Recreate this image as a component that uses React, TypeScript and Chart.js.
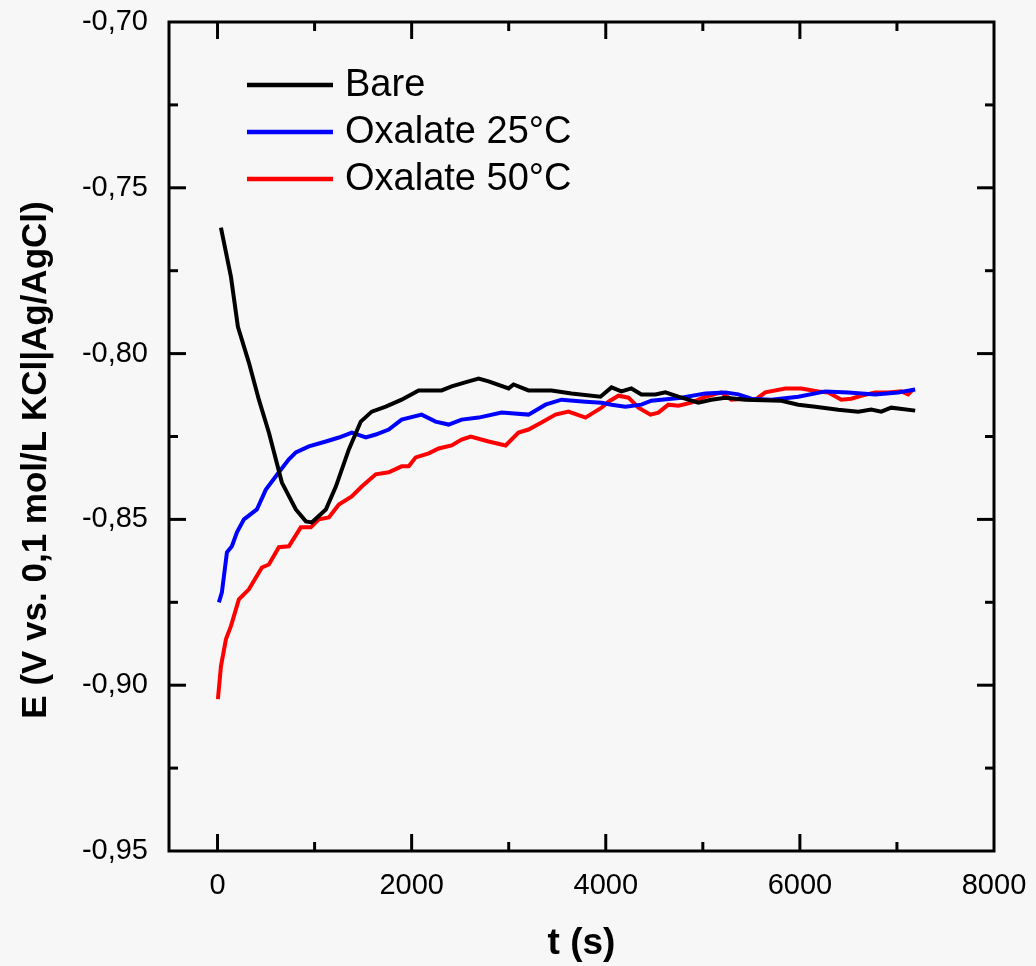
import React, { useEffect, useRef } from "react";
import { Chart, registerables } from "chart.js";

Chart.register(...registerables);

// ---- data (t in s, E in V) ----
const bareTime = [35, 138, 210, 323, 426, 529, 663, 807, 910, 971, 1116, 1219, 1353, 1476, 1589, 1733, 1897, 2072, 2309, 2412, 2587, 2690, 2793, 2999, 3050, 3204, 3441, 3647, 3945, 4059, 4161, 4264, 4367, 4511, 4614, 4748, 4954, 5088, 5232, 5438, 5809, 5984, 6159, 6395, 6601, 6735, 6838, 6941, 7188];
const bareE = [-0.762, -0.7768, -0.7919, -0.8027, -0.8139, -0.8238, -0.8389, -0.847, -0.8506, -0.8509, -0.847, -0.8401, -0.8289, -0.8205, -0.8175, -0.816, -0.8139, -0.8111, -0.8111, -0.8099, -0.8084, -0.8075, -0.8084, -0.8105, -0.8093, -0.8111, -0.8111, -0.812, -0.813, -0.8102, -0.8114, -0.8105, -0.8123, -0.8123, -0.8117, -0.813, -0.8148, -0.8139, -0.8133, -0.8139, -0.8142, -0.8154, -0.816, -0.8169, -0.8175, -0.8169, -0.8175, -0.8163, -0.8172];

const ox25Time = [14, 45, 97, 148, 200, 272, 405, 498, 632, 735, 807, 941, 1116, 1250, 1384, 1528, 1630, 1764, 1897, 2103, 2247, 2381, 2515, 2690, 2927, 3204, 3379, 3544, 3791, 3956, 4059, 4203, 4367, 4470, 4779, 5026, 5232, 5366, 5500, 5706, 5984, 6262, 6498, 6776, 7013, 7188];
const ox25E = [-0.875, -0.872, -0.8599, -0.8581, -0.8539, -0.85, -0.847, -0.841, -0.8358, -0.8319, -0.8298, -0.828, -0.8265, -0.8253, -0.8238, -0.8253, -0.8244, -0.8229, -0.8199, -0.8184, -0.8205, -0.8214, -0.8199, -0.8193, -0.8178, -0.8184, -0.8154, -0.8139, -0.8145, -0.8148, -0.8154, -0.816, -0.8154, -0.8142, -0.8133, -0.812, -0.8117, -0.8123, -0.8136, -0.8139, -0.813, -0.8114, -0.8117, -0.8123, -0.8117, -0.8108];

const ox50Time = [4, 35, 87, 138, 220, 323, 457, 529, 632, 735, 858, 961, 1044, 1147, 1250, 1383, 1486, 1630, 1764, 1897, 1970, 2042, 2176, 2278, 2412, 2515, 2608, 2793, 2968, 3101, 3204, 3338, 3482, 3616, 3791, 3956, 4028, 4131, 4234, 4337, 4460, 4542, 4645, 4748, 4882, 5026, 5191, 5294, 5438, 5541, 5644, 5850, 6015, 6190, 6293, 6427, 6529, 6632, 6776, 6910, 7044, 7116, 7167];
const ox50E = [-0.9042, -0.8943, -0.8861, -0.8822, -0.8741, -0.8711, -0.8645, -0.8636, -0.8584, -0.8581, -0.8524, -0.8524, -0.85, -0.8494, -0.8455, -0.8431, -0.8401, -0.8364, -0.8358, -0.834, -0.834, -0.8313, -0.8301, -0.8286, -0.8277, -0.8259, -0.825, -0.8265, -0.8277, -0.8238, -0.8229, -0.8208, -0.8184, -0.8175, -0.8193, -0.8163, -0.8145, -0.8127, -0.8133, -0.8163, -0.8184, -0.8178, -0.8154, -0.8157, -0.8148, -0.813, -0.8117, -0.8139, -0.8136, -0.8139, -0.8117, -0.8105, -0.8105, -0.8114, -0.8117, -0.8139, -0.8136, -0.8127, -0.8117, -0.8117, -0.8114, -0.8123, -0.8108];

const seriesLabels = ["Bare", "Oxalate 25°C", "Oxalate 50°C"];
const seriesColors = ["#000000", "#0000ff", "#ff0000"];

const xMajorTicks = [0, 2000, 4000, 6000, 8000];
const xMinorTicks = [1000, 3000, 5000, 7000];
const yMajorTicks = [-0.95, -0.9, -0.85, -0.8, -0.75, -0.7];
const yMinorTicks = [-0.925, -0.875, -0.825, -0.775, -0.725];

const xTitle = "t (s)";
const yTitle = "E (V vs. 0,1 mol/L KCl|Ag/AgCl)";

const FONT = '"Liberation Sans", Arial, Helvetica, sans-serif';

function toPoints(t: number[], e: number[]) {
  return t.map((v, i) => ({ x: v, y: e[i] }));
}

const decorPlugin = {
  id: "decor",
  beforeDraw(chart: any) {
    const { ctx, width, height } = chart;
    ctx.save();
    ctx.fillStyle = "#f7f7f7";
    ctx.fillRect(0, 0, width, height);
    ctx.restore();
  },
  afterDatasetsDraw(chart: any) {
    const { ctx, chartArea: a, scales } = chart;
    const xs = scales.x;
    const ys = scales.y;
    ctx.save();
    ctx.strokeStyle = "#000";
    ctx.lineWidth = 3;
    ctx.lineCap = "butt";
    ctx.strokeRect(a.left, a.top, a.right - a.left, a.bottom - a.top);

    const MAJ = 17;
    const MIN = 9;
    const seg = (x1: number, y1: number, x2: number, y2: number) => {
      ctx.beginPath();
      ctx.moveTo(x1, y1);
      ctx.lineTo(x2, y2);
      ctx.stroke();
    };
    xMajorTicks.forEach((v) => {
      const p = xs.getPixelForValue(v);
      if (p <= a.left + 2 || p >= a.right - 2) return;
      seg(p, a.bottom, p, a.bottom - MAJ);
      seg(p, a.top, p, a.top + MAJ);
    });
    xMinorTicks.forEach((v) => {
      const p = xs.getPixelForValue(v);
      seg(p, a.bottom, p, a.bottom - MIN);
      seg(p, a.top, p, a.top + MIN);
    });
    yMajorTicks.forEach((v) => {
      const p = ys.getPixelForValue(v);
      if (p <= a.top + 2 || p >= a.bottom - 2) return;
      seg(a.left, p, a.left + MAJ, p);
      seg(a.right, p, a.right - MAJ, p);
    });
    yMinorTicks.forEach((v) => {
      const p = ys.getPixelForValue(v);
      seg(a.left, p, a.left + MIN, p);
      seg(a.right, p, a.right - MIN, p);
    });

    // legend
    const ds = chart.data.datasets;
    ctx.font = `38px ${FONT}`;
    ctx.textAlign = "left";
    ctx.textBaseline = "middle";
    ds.forEach((d: any, i: number) => {
      const yy = 85 + i * 47;
      ctx.strokeStyle = d.borderColor;
      ctx.lineWidth = 4.5;
      seg(247, yy, 333, yy);
      ctx.fillStyle = "#000";
      ctx.fillText(d.label, 345, yy + 1);
    });

    // y axis title
    ctx.translate(36, 460);
    ctx.rotate(-Math.PI / 2);
    ctx.font = `bold 35px ${FONT}`;
    ctx.textAlign = "center";
    ctx.textBaseline = "middle";
    ctx.fillStyle = "#000";
    ctx.fillText(yTitle, 0, 0);
    ctx.restore();
  },
};

export default function App() {
  const ref = useRef<HTMLCanvasElement | null>(null);
  useEffect(() => {
    document.body.style.margin = "0";
    const canvas = ref.current;
    if (!canvas) return;
    const datasets = [
      toPoints(bareTime, bareE),
      toPoints(ox25Time, ox25E),
      toPoints(ox50Time, ox50E),
    ].map((data, i) => ({
      label: seriesLabels[i],
      data,
      borderColor: seriesColors[i],
      backgroundColor: seriesColors[i],
      borderWidth: 4,
      pointRadius: 0,
      tension: 0,
      fill: false,
    }));
    const chart = new Chart(canvas, {
      type: "line",
      data: { datasets },
      options: {
        responsive: false,
        animation: false,
        layout: { padding: { top: 22, right: 42, left: 0, bottom: 0 } },
        plugins: { legend: { display: false }, tooltip: { enabled: false } },
        scales: {
          x: {
            type: "linear",
            min: -500,
            max: 8000,
            afterBuildTicks: (s: any) => {
              s.ticks = xMajorTicks.map((v) => ({ value: v }));
            },
            afterFit: (s: any) => {
              s.height = 115;
              s.paddingLeft = 0;
              s.paddingRight = 0;
            },
            grid: { display: false, drawTicks: false },
            border: { display: false },
            ticks: {
              autoSkip: false,
              maxRotation: 0,
              padding: 18,
              color: "#000",
              font: { family: FONT, size: 29 },
              callback: (v: any) => String(v),
            },
            title: {
              display: true,
              text: xTitle,
              color: "#000",
              font: { family: FONT, size: 37, weight: "bold" },
              padding: { top: 0, bottom: 0 },
            },
          },
          y: {
            type: "linear",
            min: -0.95,
            max: -0.7,
            afterBuildTicks: (s: any) => {
              s.ticks = yMajorTicks.map((v) => ({ value: v }));
            },
            afterFit: (s: any) => {
              s.width = 169;
              s.paddingTop = 0;
              s.paddingBottom = 0;
            },
            grid: { display: false, drawTicks: false },
            border: { display: false },
            ticks: {
              autoSkip: false,
              padding: 21,
              color: "#000",
              font: { family: FONT, size: 29 },
              callback: (v: any) => Number(v).toFixed(2).replace(".", ","),
            },
          },
        },
      },
      plugins: [decorPlugin],
    });
    return () => chart.destroy();
  }, []);
  return <canvas ref={ref} width={1036} height={966} style={{ display: "block" }} />;
}
